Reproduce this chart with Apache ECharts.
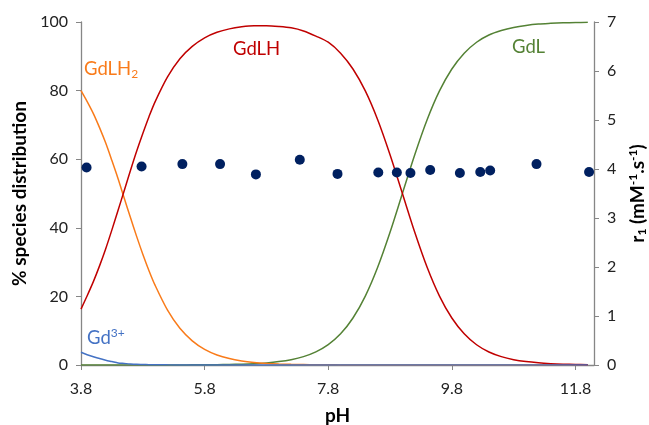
<!DOCTYPE html>
<html>
<head>
<meta charset="utf-8">
<script src="https://cdn.jsdelivr.net/npm/echarts@6/dist/echarts.min.js"></script>
<style>html,body{margin:0;padding:0;background:#fff}#c{width:649px;height:425px}</style>
</head>
<body>
<div id="c"></div>
<script>
const pH = [3.8,3.9,4.0,4.1,4.2,4.3,4.4,4.5,4.6,4.7,4.8,4.9,5.0,5.2,5.4,5.6,5.8,6.0,6.2,6.4,6.6,6.8,7.0,7.2,7.4,7.6,7.8,8.0,8.2,8.4,8.6,8.8,9.0,9.2,9.4,9.6,9.8,10.0,10.2,10.4,10.6,10.8,11.0,11.2,11.4,11.6,11.8,12.0];
const GdLH2 = [80.0,76.8,73.3,69.2,64.7,59.6,54.3,48.6,43.0,37.5,32.3,27.5,23.2,16.0,10.7,7.05,4.56,2.93,1.87,1.19,0.75,0.47,0.30,0.19,0.12,0.07,0.05,0.03,0.02,0.01,0.01,0,0,0,0,0,0,0,0,0,0,0,0,0,0,0,0,0];
const GdLH = [16.3,20.2,24.3,28.9,33.9,39.4,45.1,50.9,56.7,62.3,67.5,72.4,76.8,84.0,89.3,92.9,95.4,97.0,98.0,98.6,98.9,98.9,98.7,98.3,97.4,95.9,94.1,90.9,86.3,79.9,71.5,61.3,50.0,38.7,28.5,20.1,13.7,9.1,5.9,3.8,2.45,1.56,0.99,0.63,0.40,0.25,0.16,0.10];
const GdL = [0,0,0,0,0,0,0,0,0,0,0,0,0,0,0.02,0.04,0.06,0.10,0.16,0.25,0.39,0.62,0.99,1.56,2.45,3.83,5.94,9.09,13.7,20.1,28.5,38.7,50.0,61.3,71.5,79.9,86.3,90.9,94.1,96.2,97.5,98.4,99.0,99.4,99.6,99.75,99.84,99.9];
const Gd3 = [3.7,3.0,2.4,1.9,1.4,1.0,0.6,0.45,0.3,0.2,0.15,0.1,0.08,0.04,0.02,0.01,0,0,0,0,0,0,0,0,0,0,0,0,0,0,0,0,0,0,0,0,0,0,0,0,0,0,0,0,0,0,0,0];
const r1pH = [3.89,4.78,5.44,6.05,6.63,7.34,7.95,8.61,8.91,9.13,9.45,9.93,10.26,10.42,11.17,12.02];
const r1 = [4.03,4.05,4.10,4.10,3.89,4.19,3.90,3.93,3.93,3.92,3.98,3.92,3.94,3.97,4.10,3.94];
const xTicks = [3.8,5.8,7.8,9.8,11.8];

const FONT = 'Lato, "Open Sans", sans-serif';
const pair = (xs, ys) => xs.map((x, i) => [x, ys[i]]);
const lineSeries = (name, data, color, z) => ({
  name, type: 'line', yAxisIndex: 0, data: pair(pH, data), showSymbol: false, smooth: 0.3,
  lineStyle: { color, width: 1.5 }, itemStyle: { color }, z
});

const chart = echarts.init(document.getElementById('c'), null, { renderer: 'canvas' });
chart.setOption({
  animation: false,
  grid: { left: 81, right: 55, top: 22, bottom: 60, containLabel: false, outerBoundsMode: 'none' },
  xAxis: {
    type: 'value', min: 3.8, max: 12.1,
    name: 'pH', nameLocation: 'middle', nameGap: 41,
    nameTextStyle: { fontFamily: FONT, fontSize: 19, fontWeight: 'bold', color: '#000' },
    axisLine: { lineStyle: { color: '#868686', width: 1.3 } },
    axisTick: { show: true, length: 5, customValues: xTicks, lineStyle: { color: '#868686' } },
    axisLabel: { customValues: xTicks, margin: 16, fontFamily: FONT, fontSize: 16, color: '#222',
      formatter: v => v.toFixed(1) },
    splitLine: { show: false }
  },
  yAxis: [{
    type: 'value', min: 0, max: 100, interval: 20, position: 'left',
    name: '% species distribution', nameLocation: 'middle', nameGap: 52,
    nameTextStyle: { fontFamily: FONT, fontSize: 19, fontWeight: 'bold', color: '#000' },
    axisLine: { show: true, lineStyle: { color: '#868686', width: 1.3 } },
    axisTick: { show: true, length: 5, lineStyle: { color: '#868686' } },
    axisLabel: { margin: 13, fontFamily: FONT, fontSize: 16, color: '#222' },
    splitLine: { show: false }
  }, {
    type: 'value', min: 0, max: 7, interval: 1, position: 'right',
    name: '{b|r}{sub|1}{b| (mM}{sup|-1}{b|.s}{sup|-1}{b|)}', nameLocation: 'middle', nameGap: 33,
    nameTextStyle: { fontFamily: FONT, fontSize: 19, fontWeight: 'bold', color: '#000',
      rich: {
        b: { fontFamily: FONT, fontSize: 19, fontWeight: 'bold', color: '#000' },
        sub: { fontFamily: FONT, fontSize: 12, fontWeight: 'bold', color: '#000', verticalAlign: 'bottom', padding: [9, 0, 0, 0] },
        sup: { fontFamily: FONT, fontSize: 12, fontWeight: 'bold', color: '#000', verticalAlign: 'top', padding: [0, 0, 9, 0] }
      } },
    axisLine: { show: true, lineStyle: { color: '#868686', width: 1.3 } },
    axisTick: { show: true, length: 5, lineStyle: { color: '#868686' } },
    axisLabel: { margin: 13, fontFamily: FONT, fontSize: 16, color: '#222' },
    splitLine: { show: false }
  }],
  series: [
    lineSeries('GdL', GdL, '#548235', 2),
    lineSeries('GdLH2', GdLH2, '#F97B1A', 3),
    lineSeries('GdLH', GdLH, '#C00000', 3),
    lineSeries('Gd3+', Gd3, '#4472C4', 4),
    { name: 'r1', type: 'scatter', yAxisIndex: 1, data: pair(r1pH, r1), symbolSize: 10,
      itemStyle: { color: '#002060', opacity: 1 }, z: 10 }
  ],
  graphic: [
    { type: 'text', left: 84, top: 60, style: { text: '{a|GdLH}{s|2}', rich: {
        a: { fontFamily: FONT, fontSize: 18.5, fill: '#F97B1A' },
        s: { fontFamily: FONT, fontSize: 12, fill: '#F97B1A', verticalAlign: 'bottom', padding: [10, 0, 0, 0] } } } },
    { type: 'text', left: 233, top: 40, style: { text: 'GdLH', fontFamily: FONT, fontSize: 18.5, fill: '#C00000' } },
    { type: 'text', left: 512, top: 38, style: { text: 'GdL', fontFamily: FONT, fontSize: 18.5, fill: '#548235' } },
    { type: 'text', left: 87, top: 327, style: { text: '{a|Gd}{s|3+}', rich: {
        a: { fontFamily: FONT, fontSize: 18.5, fill: '#4472C4' },
        s: { fontFamily: FONT, fontSize: 12, fill: '#4472C4', verticalAlign: 'top', padding: [0, 0, 10, 0] } } } }
  ]
});
</script>
</body>
</html>
